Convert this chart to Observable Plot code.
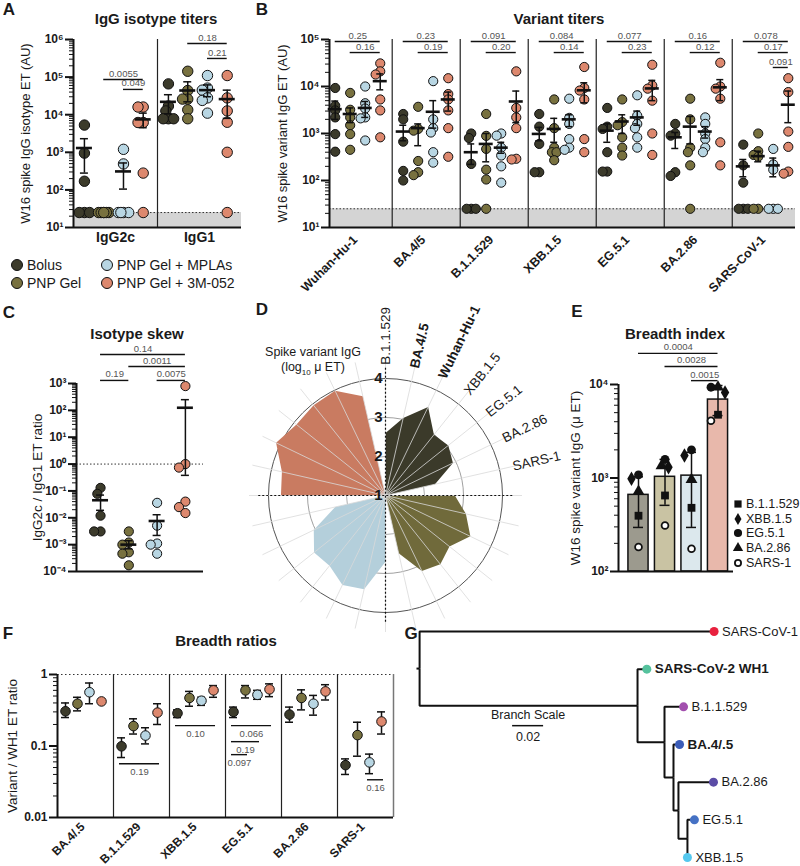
<!DOCTYPE html>
<html>
<head>
<meta charset="utf-8">
<script src="https://cdn.jsdelivr.net/npm/d3@7"></script>
<script src="https://cdn.jsdelivr.net/npm/@observablehq/plot@0.6"></script>
<style>
  html, body { margin: 0; padding: 0; background: #fff; }
  #root { position: relative; width: 800px; height: 866px; overflow: hidden; font-family: "Liberation Sans", Arial, Helvetica, sans-serif; color: #1a1a1a; }
  #root > svg { position: absolute; left: 0; top: 0; }
  g[aria-label="y-axis tick label"] { font-weight: bold; }
</style>
</head>
<body>
<div id="root"></div>
<script>
// ================= DATA =================
const groups = ["Bolus", "PNP Gel", "PNP Gel + MPLAs", "PNP Gel + 3M-052"];
const LOD = 25;

// Panel A: IgG isotype titers
const isotypes = ["IgG2c", "IgG1"];
const aPoints = [
  [[5300, 950, 170, 25, 25, 25], [25, 25, 25, 25, 25, 25], [1200, 490, 25, 25, 25, 25], [16000, 16000, 6200, 6200, 280, 25]],
  [[66000, 17000, 12600, 7800, 7800, 7800], [143000, 44000, 26000, 26000, 13500, 7800], [110000, 51000, 45000, 28000, 24000, 11000], [110000, 28000, 12600, 6300, 1000, 25]]
];
const aMean = [[1300, null, 310, 7500], [22000, 44000, 45000, 26000]];
const aLo = [[280, null, 105, 4500], [10500, 22000, 30000, 8000]];
const aHi = [[2300, null, 520, 11000], [34000, 75000, 62000, 45000]];
const aBrPairs = [[0, 1, 3], [0, 2, 3], [1, 1, 3], [1, 2, 3]];
const aBrText = ["0.0055", "0.049", "0.18", "0.21"];
const aBrY = [86000, 47000, 780000, 313000];

// Panel B: Variant titers
const variantsB = ["Wuhan-Hu-1", "BA.4/5", "B.1.1.529", "XBB.1.5", "EG.5.1", "BA.2.86", "SARS-CoV-1"];
const bPoints = [
  [[9300, 3900, 3100, 2200, 970, 410], [7300, 3200, 2200, 1500, 970, 450], [10000, 4400, 3400, 2200, 2100, 710], [31000, 21000, 18000, 5300, 3100, 830]],
  [[2600, 2000, 670, 160, 100], [3700, 1250, 1150, 260, 150, 130], [13000, 2000, 1300, 1050, 400, 240], [15000, 6900, 5300, 3100, 1300, 320]],
  [[1000, 800, 225, 25, 25, 25], [2600, 890, 470, 170, 105, 25], [1000, 900, 500, 340, 200, 90], [21000, 3500, 2200, 1300, 290, 280]],
  [[2600, 1400, 600, 150, 150], [5300, 1300, 500, 400, 400, 270], [5500, 2150, 1600, 760, 500, 450], [26000, 9300, 8200, 5300, 760, 400]],
  [[3500, 1400, 1250, 400, 155, 155], [5300, 1750, 1500, 830, 500, 340], [6500, 2400, 1600, 1300, 830, 500], [29000, 10500, 9000, 5000, 1000, 350]],
  [[1600, 1000, 900, 150, 125], [5500, 2000, 500, 400, 210, 25], [2200, 1600, 1000, 760, 500, 400], [32000, 10000, 9000, 5500, 650, 210]],
  [[580, 210, 90, 25, 25, 25], [1000, 420, 350, 320, 25, 25], [470, 220, 170, 25, 25, 25], [15000, 7600, 1100, 520, 155, 140]]
];
const bMean = [[3300, 2600, 3500, 13000], [1100, 1300, 2900, 5300], [400, 600, 500, 4800], [980, 1250, 2000, 8300], [1150, 1800, 2200, 9100], [830, 1400, 1100, 9600], [200, 330, 210, 4100]];
const bLo = [[2000, 1700, 2200, 8500], [700, 550, 1300, 3000], [220, 250, 380, 1700], [700, 650, 1400, 4500], [650, 1000, 1500, 5000], [480, 600, 800, 5000], [120, 250, 120, 1700]];
const bHi = [[4900, 3500, 4800, 18500], [1500, 1600, 5000, 7600], [600, 1000, 650, 8000], [1350, 2100, 2500, 12000], [1600, 2500, 3000, 13500], [1050, 2300, 1400, 14000], [280, 420, 300, 8000]];
const bBrPairs = [[0, 0, 3], [0, 1, 3], [1, 0, 3], [1, 1, 3], [2, 0, 3], [2, 1, 3], [3, 0, 3], [3, 1, 3], [4, 0, 3], [4, 1, 3], [5, 0, 3], [5, 1, 3], [6, 0, 3], [6, 1, 3], [6, 2, 3]];
const bBrText = ["0.25", "0.16", "0.23", "0.19", "0.091", "0.20", "0.084", "0.14", "0.077", "0.23", "0.16", "0.12", "0.078", "0.17", "0.091"];
const bBrY = [90600, 52800, 90600, 52800, 90600, 52800, 90600, 52800, 90600, 52800, 90600, 52800, 90600, 52800, 25400];

// Panel C: Isotype skew
const cPoints = [[0.13, 0.078, 0.012, 0.0031, 0.0031], [0.0031, 0.0012, 0.001, 0.00052, 0.00046, 0.00017], [0.036, 0.0051, 0.0011, 0.001, 0.00046], [800, 1.0, 0.74, 0.04, 0.025, 0.015]];
const cMean = [0.045, 0.001, 0.0076, 125];
const cLo = [0.019, 0.0007, 0.0022, 0.38];
const cHi = [0.07, 0.0014, 0.013, 250];
const cBrPairs = [[0, 3], [1, 3], [0, 1], [2, 3]];
const cBrText = ["0.14", "0.0011", "0.19", "0.0075"];
const cBrY = [12000, 4300, 1300, 1300];

// Panel D: radar (uses the mean titers of panel B)
const radarLabels = ["B.1.1.529", "BA.4/.5", "Wuhan-Hu-1", "XBB.1.5", "EG.5.1", "BA.2.86", "SARS-1"];
const radarFromB = [2, 1, 0, 3, 4, 5, 6];
const radarTicks = [1, 2, 3, 4];

// Panel E: Breadth index
const eVariants = ["B.1.1.529", "XBB.1.5", "EG.5.1", "BA.2.86", "SARS-1"];
const ePoints = [[395, 980, 1080, 720, 183], [650, 1300, 1580, 1350, 310], [480, 1740, 2000, 960, 175], [4750, 8200, 9350, 9400, 4100]];
const eMean = [660, 1030, 1060, 6900];
const eLo = [296, 510, 296, 4650];
const eHi = [1030, 1580, 1880, 9750];
const eBrPairs = [[0, 3], [1, 3], [2, 3]];
const eBrText = ["0.0004", "0.0028", "0.0015"];
const eBrY = [21500, 15600, 11000];

// Panel F: Breadth ratios
const variantsF = ["BA.4/.5", "B.1.1.529", "XBB.1.5", "EG.5.1", "BA.2.86", "SARS-1"];
const fMean = [[0.306, 0.39, 0.565, 0.42], [0.099, 0.19, 0.14, 0.293], [0.287, 0.47, 0.43, 0.6], [0.3, 0.6, 0.52, 0.62], [0.275, 0.47, 0.39, 0.58], [0.054, 0.142, 0.059, 0.22]];
const fLo = [[0.25, 0.31, 0.39, 0.42], [0.069, 0.147, 0.107, 0.2], [0.25, 0.36, 0.37, 0.48], [0.25, 0.47, 0.45, 0.49], [0.215, 0.32, 0.27, 0.44], [0.04, 0.072, 0.041, 0.147]];
const fHi = [[0.40, 0.48, 0.76, 0.42], [0.13, 0.24, 0.18, 0.39], [0.32, 0.58, 0.48, 0.7], [0.35, 0.7, 0.6, 0.74], [0.35, 0.61, 0.51, 0.72], [0.066, 0.215, 0.077, 0.3]];
const fBrPairs = [[1, 0, 3], [2, 0, 3], [3, 0, 3], [3, 0, 2], [3, 0, 1], [5, 2, 3]];
const fBrText = ["0.19", "0.10", "0.066", "0.19", "0.097", "0.16"];
const fBrY = [0.0565, 0.193, 0.193, 0.115, 0.0757, 0.0337];

// Panel G: phylogenetic tree
const treeNames = ["root", "SARS-CoV-1", "n1", "SARS-CoV-2 WH1", "n2", "B.1.1.529", "n3", "BA.4/.5", "n4", "BA.2.86", "n5", "EG.5.1", "XBB.1.5"];
const treeParent = [-1, 0, 0, 2, 2, 4, 4, 6, 6, 8, 8, 10, 10];
const treeBranch = [0.002, 0.19, 0.1406, 0.006, 0.0174, 0.0123, 0.0058, 0.0039, 0.0032, 0.0226, 0.0058, 0.0045, 0];
const scaleBar = 0.02;

// ================= STYLE =================
const dotColors = ["#3c3b2b", "#78713f", "#b8d6e3", "#dd886e"];
const radarColors = ["#3b3a2a", "#706a3b", "#b4cfdb", "#c97b61"];
const barColors = ["#9c9a8e", "#c9c3a3", "#dce8ed", "#e8b8ab"];
const eSymbols = ["square", "diamond", "circle", "triangle", "circle"];
const radarBold = ["BA.4/.5", "Wuhan-Hu-1"];
const treeBold = ["SARS-CoV-2 WH1", "BA.4/.5"];
const leafColors = {"SARS-CoV-1": "#e8213e", "SARS-CoV-2 WH1": "#55c29d", "B.1.1.529": "#a24fae", "BA.4/.5": "#3b5cb8", "BA.2.86": "#5b4ca6", "EG.5.1": "#4571c4", "XBB.1.5": "#55c8ee"};

// ================= HELPERS =================
const root = document.getElementById("root");
const W = 800, H = 866;
const FONT = "'Liberation Sans', Arial, Helvetica, sans-serif";
const INK = "#111";

function base(l, t, r, b) {
  return {
    width: W, height: H,
    marginLeft: l, marginTop: t, marginRight: W - r, marginBottom: H - b,
    style: {background: "transparent", overflow: "visible", fontFamily: FONT, fontSize: "12px", color: "#1a1a1a"}
  };
}
function put(svg) {
  svg.style.position = "absolute"; svg.style.left = "0px"; svg.style.top = "0px";
  root.appendChild(svg);
}
function html(x, y, content, css, anchor) {
  const d = document.createElement("div");
  d.innerHTML = content;
  const tx = anchor === "start" ? "0" : anchor === "end" ? "-100%" : "-50%";
  d.style.cssText = `position:absolute;left:${x}px;top:${y}px;transform:translate(${tx},-50%);white-space:nowrap;line-height:1;` + (css || "");
  root.appendChild(d);
}
const supMap = {"-": "⁻", "0": "⁰", "1": "¹", "2": "²", "3": "³", "4": "⁴", "5": "⁵", "6": "⁶", "7": "⁷", "8": "⁸", "9": "⁹"};
const pow10 = d => "10" + String(Math.round(Math.log10(d))).replace(/./g, c => supMap[c]);
function decades(a, b) { const t = []; for (let e = a; e <= b; e++) t.push(Math.pow(10, e)); return t; }
function minors(a, b) { const t = []; for (let e = a; e < b; e++) for (let m = 2; m < 10; m++) t.push(m * Math.pow(10, e)); return t; }

function logAxis(e0, e1, fmt) {
  return [
    Plot.axisY({ticks: minors(e0, e1), tickSize: 4, tickFormat: () => "", stroke: INK, strokeWidth: 1, label: null}),
    Plot.axisY({ticks: decades(e0, e1), tickSize: 8, tickFormat: fmt, stroke: INK, strokeWidth: 2, fontSize: 12, fontWeight: "bold", tickPadding: 2, label: null})
  ];
}
// simple beeswarm: horizontal pixel offsets for dots sharing a column
function swarm(vals, pxPerDec, r, step = 0.5, thr = 1.0) {
  const placed = [], out = new Array(vals.length).fill(0);
  const order = d3.range(vals.length).sort((a, b) => vals[b] - vals[a]);
  const cands = [0, -1, 1, -2, 2].map(k => k * step * r);
  for (const i of order) {
    const y = Math.log10(vals[i]) * pxPerDec;
    let best = 0, bestD = -1;
    for (const c of cands) {
      const d = placed.length ? Math.min(...placed.map(p => Math.hypot(p[0] - c, p[1] - y))) : Infinity;
      if (d >= thr * r) { best = c; break; }
      if (d > bestD) { bestD = d; best = c; }
    }
    out[i] = best; placed.push([best, y]);
  }
  return out;
}
function errMarks(sums, pxU, capPx, meanPx) {
  const cap = capPx / pxU, mw = meanPx / pxU;
  const m = [
    Plot.ruleX(sums, {x: "x", y1: "lo", y2: "hi", stroke: INK, strokeWidth: 1.5}),
    Plot.ruleY(sums, {y: "lo", x1: d => d.x - cap, x2: d => d.x + cap, stroke: INK, strokeWidth: 1.5}),
    Plot.ruleY(sums, {y: "hi", x1: d => d.x - cap, x2: d => d.x + cap, stroke: INK, strokeWidth: 1.5})
  ];
  if (meanPx) m.push(Plot.ruleY(sums, {y: "mean", x1: d => d.x - mw, x2: d => d.x + mw, stroke: INK, strokeWidth: 2.6}));
  return m;
}
function bracketMarks(brs, below) {
  return [
    Plot.ruleY(brs, {y: "y", x1: "x1", x2: "x2", stroke: INK, strokeWidth: 1.4}),
    Plot.text(brs, {x: d => (d.x1 + d.x2) / 2, y: "y", text: "t", dy: below ? 8 : -6, fontSize: 9.5, fill: "#555"})
  ];
}
function yLabel(text, dx, size) {
  return Plot.text([text], {text: d => d, frameAnchor: "left", textAnchor: "middle", rotate: -90, dx, fontSize: size});
}

// ================= PANEL A =================
{
  const pxU = 84, pxD = 188 / 5, r = 5.2;
  const offs = [-0.37, -0.14, 0.095, 0.33];
  const pts = [], sums = [];
  isotypes.forEach((cat, c) => groups.forEach((grp, g) => {
    const vals = aPoints[c][g];
    const o = swarm(vals, pxD, r);
    vals.forEach((v, i) => pts.push({x: c + 0.5 + offs[g] + o[i] / pxU, y: v, fill: dotColors[g]}));
    if (aMean[c][g] != null) sums.push({x: c + 0.5 + offs[g], mean: aMean[c][g], lo: aLo[c][g], hi: aHi[c][g]});
  }));
  const brs = aBrPairs.map(([c, a, b], i) => ({x1: c + 0.5 + offs[a], x2: c + 0.5 + offs[b], y: aBrY[i], t: aBrText[i]}));
  put(Plot.plot({
    ...base(73, 39, 241, 227),
    x: {domain: [0, 2], axis: null},
    y: {type: "log", domain: [10, 1e6], axis: null},
    marks: [
      Plot.rect([0], {x1: 0, x2: 2, y1: 10, y2: LOD, fill: "#d4d4d4"}),
      Plot.ruleY([LOD], {stroke: "#333", strokeDasharray: "1.5,2"}),
      Plot.ruleX([1], {y1: 10, y2: 1e6, stroke: "#222", strokeWidth: 1.2}),
      Plot.dot(pts, {x: "x", y: "y", r, fill: "fill", stroke: INK, strokeWidth: 1}),
      ...errMarks(sums, pxU, 4, 8),
      ...logAxis(1, 6, pow10),
      Plot.ruleX([0], {y1: 10, y2: 1e6, stroke: INK, strokeWidth: 2}),
      Plot.ruleY([10], {stroke: INK, strokeWidth: 2}),
      Plot.text(isotypes, {x: (d, i) => i + 0.5, text: d => d, frameAnchor: "bottom", dy: 14, fontWeight: "bold", fontSize: 14}),
      ...bracketMarks(brs, false),
      yLabel("W16 spike IgG isotype ET (AU)", -48, 13)
    ]
  }));
}

// ================= PANEL B =================
{
  const pxU = 68, pxD = 188 / 4, r = 4.6;
  const x0 = 0.078, x1 = 6.93;
  const offs = [-0.338, -0.118, 0.103, 0.324];
  const pts = [], sums = [];
  variantsB.forEach((cat, c) => groups.forEach((grp, g) => {
    const vals = bPoints[c][g];
    const o = swarm(vals, pxD, r);
    vals.forEach((v, i) => pts.push({x: c + 0.5 + offs[g] + o[i] / pxU, y: v, fill: dotColors[g]}));
    sums.push({x: c + 0.5 + offs[g], mean: bMean[c][g], lo: bLo[c][g], hi: bHi[c][g]});
  }));
  const brs = bBrPairs.map(([c, a, b], i) => ({x1: c + 0.5 + offs[a], x2: c + 0.5 + offs[b], y: bBrY[i], t: bBrText[i]}));
  put(Plot.plot({
    ...base(329, 39, 795, 227),
    x: {domain: [x0, x1], axis: null},
    y: {type: "log", domain: [10, 1e5], axis: null},
    marks: [
      Plot.rect([0], {x1: x0, x2: x1, y1: 10, y2: LOD, fill: "#d4d4d4"}),
      Plot.ruleY([LOD], {stroke: "#333", strokeDasharray: "1.5,2"}),
      Plot.ruleX([1, 2, 3, 4, 5, 6], {y1: 10, y2: 1e5, stroke: "#222", strokeWidth: 1.2}),
      Plot.dot(pts, {x: "x", y: "y", r, fill: "fill", stroke: INK, strokeWidth: 1}),
      ...errMarks(sums, pxU, 3.5, 7),
      ...logAxis(1, 5, pow10),
      Plot.ruleX([x0], {y1: 10, y2: 1e5, stroke: INK, strokeWidth: 2}),
      Plot.ruleY([10], {stroke: INK, strokeWidth: 2}),
      Plot.text(variantsB, {x: (d, i) => i + 0.5, text: d => d, frameAnchor: "bottom", dy: 13, rotate: -45, textAnchor: "end", fontWeight: "bold", fontSize: 12.5}),
      ...bracketMarks(brs, false),
      yLabel("W16 spike variant IgG ET (AU)", -47, 13)
    ]
  }));
}

// ================= PANEL C =================
{
  const pxU = 28.3, pxD = 188 / 7, r = 4.6;
  const x0 = -0.35, x1 = 4.14;
  const pts = [], sums = [];
  groups.forEach((grp, g) => {
    const vals = cPoints[g];
    const o = swarm(vals, pxD, r, 0.7, 1.4);
    vals.forEach((v, i) => pts.push({x: g + 0.5 + o[i] / pxU, y: v, fill: dotColors[g]}));
    sums.push({x: g + 0.5, mean: cMean[g], lo: cLo[g], hi: cHi[g]});
  });
  const brs = cBrPairs.map(([a, b], i) => ({x1: a + 0.5, x2: b + 0.5, y: cBrY[i], t: cBrText[i]}));
  put(Plot.plot({
    ...base(76, 383, 203, 571),
    x: {domain: [x0, x1], axis: null},
    y: {type: "log", domain: [1e-4, 1e3], axis: null},
    marks: [
      Plot.ruleY([1], {stroke: "#333", strokeDasharray: "1.5,2"}),
      Plot.dot(pts, {x: "x", y: "y", r, fill: "fill", stroke: INK, strokeWidth: 1}),
      ...errMarks(sums, pxU, 4, 8),
      ...logAxis(-4, 3, pow10),
      Plot.ruleX([x0], {y1: 1e-4, y2: 1e3, stroke: INK, strokeWidth: 2}),
      Plot.ruleY([1e-4], {stroke: INK, strokeWidth: 2}),
      ...bracketMarks(brs, false),
      yLabel("IgG2c / IgG1 ET ratio", -39, 13.5)
    ]
  }));
}

// ================= PANEL D =================
{
  const K = 39, half = 140 / K;
  const rad = a => a * Math.PI / 180;
  const polys = groups.map((grp, g) => {
    const rows = [{x: 0, y: 0}];
    radarFromB.forEach((vi, k) => {
      const th = rad(g * 90 + k * 90 / 7);
      const rr = Math.log10(bMean[vi][g]) - 1;
      rows.push({x: rr * Math.sin(th), y: rr * Math.cos(th)});
    });
    rows.push({x: 0, y: 0});
    return rows;
  });
  const spokes = d3.range(28).map(i => i * 90 / 7);
  const labels = radarLabels.map((name, k) => {
    const a = k * 90 / 7;
    return {name, x: 3.35 * Math.sin(rad(a)), y: 3.35 * Math.cos(rad(a)), rot: a - 90, bold: radarBold.includes(name)};
  });
  put(Plot.plot({
    ...base(245, 355, 525, 635),
    x: {domain: [-half, half], axis: null},
    y: {domain: [-half, half], axis: null},
    marks: [
      Plot.dot([0], {x: 0, y: 0, r: K, fill: "none", stroke: "#999", strokeWidth: 0.8}),
      Plot.dot([0], {x: 0, y: 0, r: 2 * K, fill: "none", stroke: "#888", strokeWidth: 0.8}),
      Plot.dot([0], {x: 0, y: 0, r: 3 * K, fill: "none", stroke: "#555", strokeWidth: 1}),
      ...polys.map((rows, g) => Plot.line(rows, {x: "x", y: "y", fill: radarColors[g], stroke: "none"})),
      Plot.link(spokes, {x1: 0, y1: 0, x2: d => 3.5 * Math.sin(rad(d)), y2: d => 3.5 * Math.cos(rad(d)), stroke: "#d9d9d9", strokeWidth: 0.8}),
      Plot.ruleY([0], {x1: -3.25, x2: 3.27, stroke: INK, strokeWidth: 1.2, strokeDasharray: "2,2"}),
      Plot.ruleX([0], {y1: -3.25, y2: 3.3, stroke: INK, strokeWidth: 1.2, strokeDasharray: "2,2"}),
      Plot.text(radarTicks, {x: 0, y: d => d - 1, text: d => String(d), dx: -7, fontWeight: "bold", fontSize: 15}),
      Plot.text(labels.filter(d => !d.bold), {x: "x", y: "y", text: "name", rotate: "rot", textAnchor: "start", fontSize: 13.5}),
      Plot.text(labels.filter(d => d.bold), {x: "x", y: "y", text: "name", rotate: "rot", textAnchor: "start", fontSize: 13.5, fontWeight: "bold"})
    ]
  }));
}

// ================= PANEL E =================
{
  const pxU = 26.5, pxD = 187 / 2, r = 4.4;
  const x0 = -0.755, x1 = 3.585;
  const bars = groups.map((grp, i) => ({x: i, mean: eMean[i], lo: eLo[i], hi: eHi[i], fill: barColors[i]}));
  const pts = [];
  groups.forEach((grp, g) => {
    const o = swarm(ePoints[g], pxD, r, 0.8, 1.6);
    ePoints[g].forEach((v, k) => pts.push({x: g + o[k] / pxU, y: v, k}));
  });
  const brs = eBrPairs.map(([a, b], i) => ({x1: a, x2: b, y: eBrY[i], t: eBrText[i]}));
  put(Plot.plot({
    ...base(618, 384, 733, 571),
    x: {domain: [x0, x1], axis: null},
    y: {type: "log", domain: [100, 1e4], axis: null},
    marks: [
      Plot.rect(bars, {x1: d => d.x - 0.38, x2: d => d.x + 0.38, y1: 100, y2: "mean", fill: "fill", stroke: INK, strokeWidth: 1.5}),
      ...errMarks(bars, pxU, 5, 0),
      Plot.dot(pts.filter(d => d.k < 4), {x: "x", y: "y", r, symbol: d => eSymbols[d.k], fill: INK, stroke: "none"}),
      Plot.dot(pts.filter(d => d.k === 4), {x: "x", y: "y", r: 3.4, fill: "white", stroke: INK, strokeWidth: 1.8}),
      ...logAxis(2, 4, pow10),
      Plot.ruleX([x0], {y1: 100, y2: 1e4, stroke: INK, strokeWidth: 2}),
      Plot.ruleY([100], {stroke: INK, strokeWidth: 2}),
      ...bracketMarks(brs, false),
      yLabel("W16 spike variant IgG (μ ET)", -43, 13.5)
    ]
  }));
}

// ================= PANEL F =================
{
  const pxU = 56;
  const offs = [-0.357, -0.143, 0.071, 0.286];
  const rows = [];
  variantsF.forEach((v, c) => groups.forEach((grp, g) => rows.push({x: c + 0.5 + offs[g], mean: fMean[c][g], lo: fLo[c][g], hi: fHi[c][g], fill: dotColors[g]})));
  const ext = 2 / pxU;
  const brs = fBrPairs.map(([c, a, b], i) => ({x1: c + 0.5 + offs[a] - ext, x2: c + 0.5 + offs[b] + ext, y: fBrY[i], t: fBrText[i]}));
  put(Plot.plot({
    ...base(57, 674, 393, 817),
    x: {domain: [0, 6], axis: null},
    y: {type: "log", domain: [0.01, 1], axis: null},
    marks: [
      Plot.ruleY([1], {stroke: "#333", strokeDasharray: "1.5,2.5"}),
      Plot.ruleX([1, 2, 3, 4, 5], {y1: 0.01, y2: 1, stroke: "#222", strokeWidth: 1.2}),
      Plot.ruleX([6], {y1: 0.01, y2: 1, stroke: "#777", strokeWidth: 1.5}),
      ...errMarks(rows.filter(d => d.hi > d.lo), pxU, 4, 0),
      Plot.dot(rows, {x: "x", y: "mean", r: 4.8, fill: "fill", stroke: INK, strokeWidth: 1}),
      ...logAxis(-2, 0, d3.format("~g")),
      Plot.ruleX([0], {y1: 0.01, y2: 1, stroke: INK, strokeWidth: 2}),
      Plot.ruleY([0.01], {stroke: INK, strokeWidth: 2}),
      Plot.text(variantsF, {x: (d, i) => i + 0.5, text: d => d, frameAnchor: "bottom", dy: 10, rotate: -45, textAnchor: "end", fontWeight: "bold", fontSize: 12}),
      ...bracketMarks(brs, true),
      yLabel("Variant / WH1 ET ratio", -45, 13.5)
    ]
  }));
}

// ================= PANEL G =================
{
  const n = treeNames.length;
  const children = treeNames.map(() => []);
  treeParent.forEach((p, i) => { if (p >= 0) children[p].push(i); });
  const xs = new Array(n), ys = new Array(n);
  treeNames.forEach((nm, i) => { xs[i] = (treeParent[i] >= 0 ? xs[treeParent[i]] : 0) + treeBranch[i]; });
  let leafIdx = 0;
  (function layout(i) {
    if (!children[i].length) { ys[i] = leafIdx++; return; }
    children[i].forEach(layout);
    ys[i] = d3.mean(children[i], c => ys[c]);
  })(0);
  const edges = [{x1: 0, y1: ys[0], x2: xs[0], y2: ys[0]}];
  treeParent.forEach((p, i) => { if (p >= 0) edges.push({x1: xs[p], y1: ys[p], x2: xs[i], y2: ys[i]}); });
  const leaves = treeNames.map((name, i) => ({name, x: xs[i], y: ys[i], leaf: !children[i].length})).filter(d => d.leaf);
  const sbX = 0.062, sbY = 2.5;
  put(Plot.plot({
    ...base(416, 631, 788, 857),
    x: {domain: [0, 0.24], axis: null},
    y: {domain: [6, 0], axis: null},
    marks: [
      Plot.link(edges, {x1: "x1", y1: "y1", x2: "x2", y2: "y2", curve: "step-before", stroke: INK, strokeWidth: 2}),
      Plot.dot(leaves, {x: "x", y: "y", r: 4.5, fill: d => leafColors[d.name]}),
      Plot.text(leaves.filter(d => !treeBold.includes(d.name)), {x: "x", y: "y", text: "name", dx: 8, textAnchor: "start", fontSize: 13}),
      Plot.text(leaves.filter(d => treeBold.includes(d.name)), {x: "x", y: "y", text: "name", dx: 8, textAnchor: "start", fontSize: 13.5, fontWeight: "bold"}),
      Plot.ruleY([sbY], {x1: sbX, x2: sbX + scaleBar, stroke: INK, strokeWidth: 1.5}),
      Plot.text(["Branch Scale"], {x: sbX + scaleBar / 2, y: sbY, text: d => d, dy: -11, fontSize: 12.5}),
      Plot.text([String(scaleBar)], {x: sbX + scaleBar / 2, y: sbY, text: d => d, dy: 11, fontSize: 12.5})
    ]
  }));
}

// ================= TEXT: letters, titles, legends =================
const letterCss = "font-weight:bold;font-size:17px;";
html(9, 9, "A", letterCss); html(262, 9, "B", letterCss); html(9, 312, "C", letterCss);
html(262, 309, "D", letterCss); html(577, 311, "E", letterCss); html(8, 633, "F", letterCss); html(411, 633, "G", letterCss);
const titleCss = "font-weight:bold;font-size:15px;";
html(156, 18, "IgG isotype titers", titleCss);
html(559, 18, "Variant titers", titleCss);
html(137, 333, "Isotype skew", titleCss);
html(675, 333, "Breadth index", titleCss);
html(226, 640, "Breadth ratios", titleCss);

// legend for groups (panel A)
[[17, 265, 0], [17, 283, 1], [107, 265, 2], [107, 283, 3]].forEach(([cx, cy, g]) => {
  html(cx, cy, `<span style="display:block;width:12px;height:12px;border-radius:50%;background:${dotColors[g]};border:1.2px solid #111;box-sizing:border-box"></span>`);
  html(cx + 10, cy, groups[g], "font-size:14px;", "start");
});

// radar axis title
html(313, 352, "Spike variant IgG", "font-size:12.5px;");
html(313, 369, "(log<sub style='font-size:8px'>10</sub> μ ET)", "font-size:12.5px;");

// legend for symbols (panel E)
const symPath = {
  square: d3.symbol(d3.symbolSquare, 52)(),
  diamond: d3.symbol(d3.symbolDiamond, 42)(),
  circle: d3.symbol(d3.symbolCircle, 52)(),
  triangle: d3.symbol(d3.symbolTriangle, 46)()
};
eVariants.forEach((name, k) => {
  const cy = 504 + k * 14.7;
  const open = k === 4;
  const p = open ? d3.symbol(d3.symbolCircle, 30)() : symPath[eSymbols[k]];
  html(738, cy, `<svg width="12" height="12" viewBox="-6 -6 12 12" style="display:block"><path d="${p}" fill="${open ? "#fff" : "#111"}" stroke="${open ? "#111" : "none"}" stroke-width="1.8"/></svg>`);
  html(746, cy, name, "font-size:12.5px;", "start");
});
</script>
</body>
</html>
